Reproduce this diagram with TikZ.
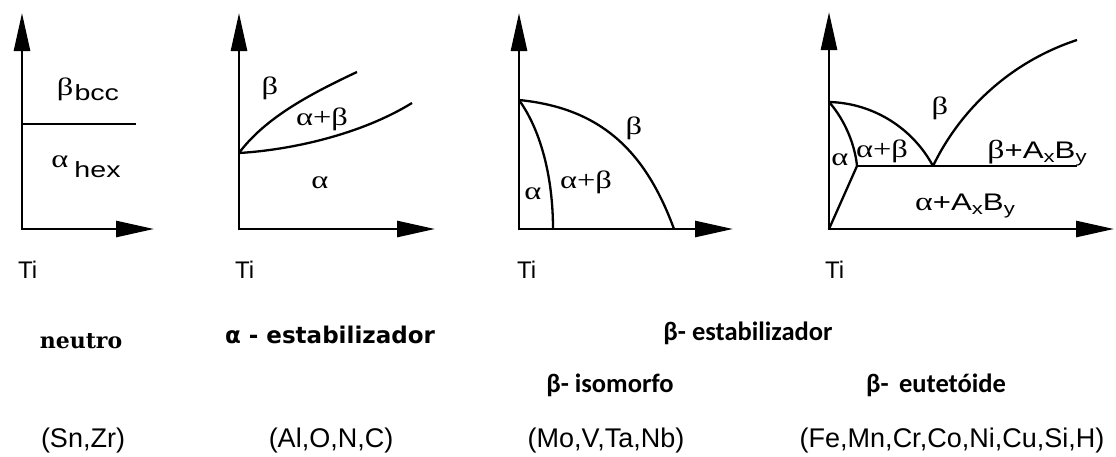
\documentclass[tikz,border=0pt]{standalone}
\usepackage{fontspec}
\setmainfont{Liberation Sans}
\newfontfamily\grk{Liberation Serif}[FakeStretch=1.3]
\newfontfamily\wide{Liberation Sans}[FakeStretch=1.3]
\newfontfamily\nfont{DejaVu Serif}
\newfontfamily\vfont{DejaVu Sans}
\newfontfamily\cfont{Carlito}
\usetikzlibrary{arrows.meta}
\newcommand{\fs}[1]{\fontsize{#1}{#1}\selectfont}
\newcommand{\sbx}[1]{\raisebox{-4.5pt}{\fs{17}#1}}
\begin{document}
\begin{tikzpicture}[x=1pt,y=-1pt,
  axis/.style={line width=2.7pt,{Triangle[length=38pt,width=16pt]}-{Triangle[length=38pt,width=16pt]}},
  curve/.style={line width=2.3pt},
  lbl/.style={inner sep=0pt,font=\wide\fs{22}},
  gl/.style={inner sep=0pt,font=\grk\fs{25}},
  tilbl/.style={inner sep=0pt,anchor=west,font=\fs{24}},
  bot/.style={inner sep=0pt,font=\fs{27}},
  head/.style={inner sep=0pt}]
\useasboundingbox (0,0) rectangle (1116,456);
\fill[white] (0,0) rectangle (1116,456);
% ---------- panel 1
\coordinate (o1) at (22,229); \coordinate (t1) at (22,13); \coordinate (r1) at (154,229);
\draw[axis] (t1) -- (o1) -- (r1);
\coordinate (h1a) at (22,124); \coordinate (h1b) at (136,124);
\draw[curve] (h1a) -- (h1b);
\node[lbl] (bbcc) at (88,89) {{\grk\fs{25}β}\hspace{1pt}\raisebox{-5pt}{bcc}};
\node[lbl] (ahex) at (86,167) {\raisebox{10pt}{\grk\fs{25}α}\hspace{6pt}hex};
\node[tilbl] (ti1) at (18,270) {Ti};
% ---------- panel 2
\coordinate (o2) at (239,229); \coordinate (t2) at (239,13); \coordinate (r2) at (435,229);
\draw[axis] (t2) -- (o2) -- (r2);
\coordinate (p2) at (239,153); \coordinate (u2) at (357,72); \coordinate (l2) at (412,103);
\draw[curve] (p2) .. controls (265,118) and (310,94) .. (u2);
\draw[curve] (p2) .. controls (290,150) and (360,135) .. (l2);
\node[gl] (b2) at (270,88) {β};
\node[gl] (ab2) at (322,119) {α+β};
\node[gl] (a2) at (320,183) {α};
\node[tilbl] (ti2) at (235,270) {Ti};
% ---------- panel 3
\coordinate (o3) at (519,229); \coordinate (t3) at (519,13); \coordinate (r3) at (733,229);
\draw[axis] (t3) -- (o3) -- (r3);
\coordinate (p3) at (519,100); \coordinate (i3) at (553,229); \coordinate (e3) at (674,229);
\draw[curve] (p3) .. controls (542,132) and (553,180) .. (i3);
\draw[curve] (p3) .. controls (600,108) and (645,150) .. (e3);
\node[gl] (b3) at (634,128) {β};
\node[gl] (ab3) at (586,182) {α+β};
\node[gl] (a3) at (533,194) {α};
\node[tilbl] (ti3) at (517,270) {Ti};
% ---------- panel 4
\coordinate (o4) at (829,229); \coordinate (t4) at (829,12); \coordinate (r4) at (1114,229);
\draw[axis] (t4) -- (o4) -- (r4);
\coordinate (p4) at (829,102); \coordinate (eu) at (933,166); \coordinate (tr) at (1077,40);
\coordinate (k4) at (857,166); \coordinate (h4) at (1077,166);
\draw[curve] (p4) .. controls (872,103) and (912,127) .. (eu);
\draw[curve] (eu) .. controls (960,110) and (1010,62) .. (tr);
\draw[curve] (k4) -- (h4);
\draw[curve] (p4) .. controls (845,120) and (855,145) .. (k4);
\draw[curve] (k4) -- (o4);
\node[gl] (b4) at (940,108) {β};
\node[gl] (ab4) at (882,151) {α+β};
\node[gl] (a4) at (840,160) {α};
\node[lbl,font=\wide\fs{24}] (bab) at (1037,153) {{\grk\fs{26}β}+A\sbx{x}B\sbx{y}};
\node[lbl,font=\wide\fs{24}] (aab) at (965,206) {{\grk\fs{26}α}+A\sbx{x}B\sbx{y}};
\node[tilbl] (ti4) at (825,270) {Ti};
% ---------- bottom texts
\node[head,font=\nfont\bfseries\fs{22}] (neu) at (81,341) {neutro};
\node[head,font=\vfont\bfseries\fs{23}] (aest) at (330,335) {α - estabilizador};
\node[head,font=\cfont\bfseries\fs{26.5}] (best) at (748,333) {β- estabilizador};
\node[head,font=\cfont\bfseries\fs{26.5}] (biso) at (610,385) {β- isomorfo};
\node[head,font=\cfont\bfseries\fs{26.5}] (beut) at (936,385) {β-\, eutetóide};
\node[bot] (e1) at (83,441) {(Sn,Zr)};
\node[bot] (e2) at (331,441) {(Al,O,N,C)};
\node[bot] (e3n) at (606,441) {(Mo,V,Ta,Nb)};
\node[bot] (e4) at (952,441) {(Fe,Mn,Cr,Co,Ni,Cu,Si,H)};
\end{tikzpicture}
\end{document}
